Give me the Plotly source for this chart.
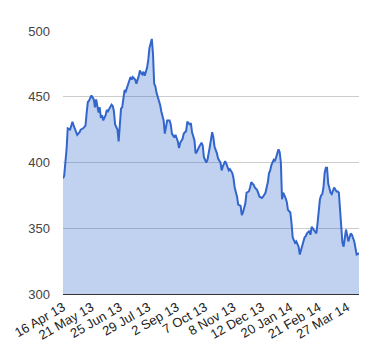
import plotly.graph_objects as go

# trading-day index (0 = 16 Apr 13) and closing price
day = [0, 1, 3, 4, 6, 8, 9, 11, 12, 14,
       15, 17, 19, 20, 21, 22, 23, 24, 26, 27,
       28, 29, 30, 31, 32, 33, 34, 36, 37, 38,
       40, 41, 42, 43, 44, 46, 47, 48, 49, 50,
       52, 53, 54, 55, 57, 58, 59, 61, 62, 64,
       65, 66, 67, 68, 69, 70, 71, 72, 73, 75,
       76, 77, 78, 79, 81, 82, 83, 85, 86, 87,
       88, 90, 91, 92, 94, 95, 97, 98, 99, 101,
       102, 104, 105, 107, 108, 109, 111, 112, 113, 115,
       117, 118, 119, 121, 122, 124, 125, 126, 127, 128,
       130, 131, 133, 134, 135, 137, 138, 140, 141, 143,
       144, 145, 147, 148, 150, 151, 152, 154, 155, 157,
       158, 159, 161, 162, 164, 165, 166, 168, 169, 171,
       172, 173, 174, 175, 176, 178, 179, 180, 181, 182,
       183, 184, 185, 186, 188, 189, 190, 192, 193, 194,
       195, 196, 197, 199, 200, 201, 202, 203, 204, 205,
       206, 208, 209, 210, 212, 213, 214, 215, 216, 217,
       218, 219, 220, 221, 222, 223, 224, 225, 226, 227,
       228, 229, 231, 232, 233, 234, 235, 236, 237, 238,
       239, 240, 241, 242, 243, 244, 245, 246, 247, 248,
       250]

price = [388, 390, 410, 426, 425, 431, 428, 423, 421, 423,
         425, 426, 428, 438, 446, 447, 449, 451, 448, 442,
         448, 442, 438, 442, 434, 436, 432, 436, 440, 439,
         442, 444, 443, 439, 429, 425, 416, 429, 441, 442,
         455, 454, 457, 461, 465, 463, 465, 463, 460, 466,
         470, 468, 467, 469, 466, 469, 472, 478, 487, 494,
         483, 460, 458, 453, 448, 444, 439, 432, 422, 429,
         432, 432, 429, 422, 419, 421, 416, 411, 415, 418,
         422, 424, 431, 429, 430, 423, 417, 407, 408, 412,
         415, 413, 404, 400, 402, 412, 419, 423, 419, 412,
         407, 403, 400, 394, 397, 401, 399, 394, 395, 392,
         388, 381, 374, 368, 367, 360, 362, 369, 377, 378,
         381, 385, 383, 381, 379, 376, 374, 373, 374, 377,
         381, 385, 392, 394, 398, 402, 401, 404, 406, 410,
         408, 400, 372, 377, 373, 370, 364, 362, 354, 343,
         341, 339, 340, 336, 330, 333, 336, 340, 343, 344,
         346, 348, 345, 351, 348, 347, 346, 354, 364, 372,
         375, 376, 381, 392, 396, 396, 384, 381, 377, 376,
         379, 381, 378, 378, 377, 362, 349, 339, 336, 342,
         349, 345, 340, 343, 346, 345, 343, 340, 335, 330,
         331]

tick_days = [0, 24, 48, 72, 96, 120, 144, 168, 192, 216, 240]
tick_labels = ["16 Apr 13", "21 May 13", "25 Jun 13", "29 Jul 13", "2 Sep 13",
               "7 Oct 13", "8 Nov 13", "12 Dec 13", "20 Jan 14", "21 Feb 14",
               "27 Mar 14"]
y_ticks = [300, 350, 400, 450, 500]

assert len(day) == len(price)

fig = go.Figure()
fig.add_trace(go.Scatter(
    x=day, y=price, mode="lines",
    line=dict(color="#3366cc", width=2),
    fill="tozeroy", fillcolor="rgba(51,102,204,0.3)",
    hoverinfo="skip", showlegend=False,
))

fig.update_layout(
    width=380, height=360,
    margin=dict(l=55, r=29, t=23, b=74, autoexpand=False),
    paper_bgcolor="white", plot_bgcolor="white",
    font=dict(family="Arial, Liberation Sans, sans-serif", size=13, color="#444444"),
    xaxis=dict(
        range=[0, 250], tickmode="array", tickvals=tick_days, ticktext=tick_labels,
        tickangle=-30, showgrid=False, zeroline=False,
        showline=True, linecolor="#333333", linewidth=1,
        ticks="", tickfont=dict(size=13, color="#222222"), automargin=False,
    ),
    yaxis=dict(
        range=[300, 500], tickmode="array", tickvals=y_ticks,
        showgrid=True, gridcolor="#cccccc", gridwidth=1, zeroline=False,
        showline=False, ticks="", ticklabelstandoff=12, automargin=False,
        tickfont=dict(size=13, color="#444444"),
    ),
)

fig.write_html("out.html")
